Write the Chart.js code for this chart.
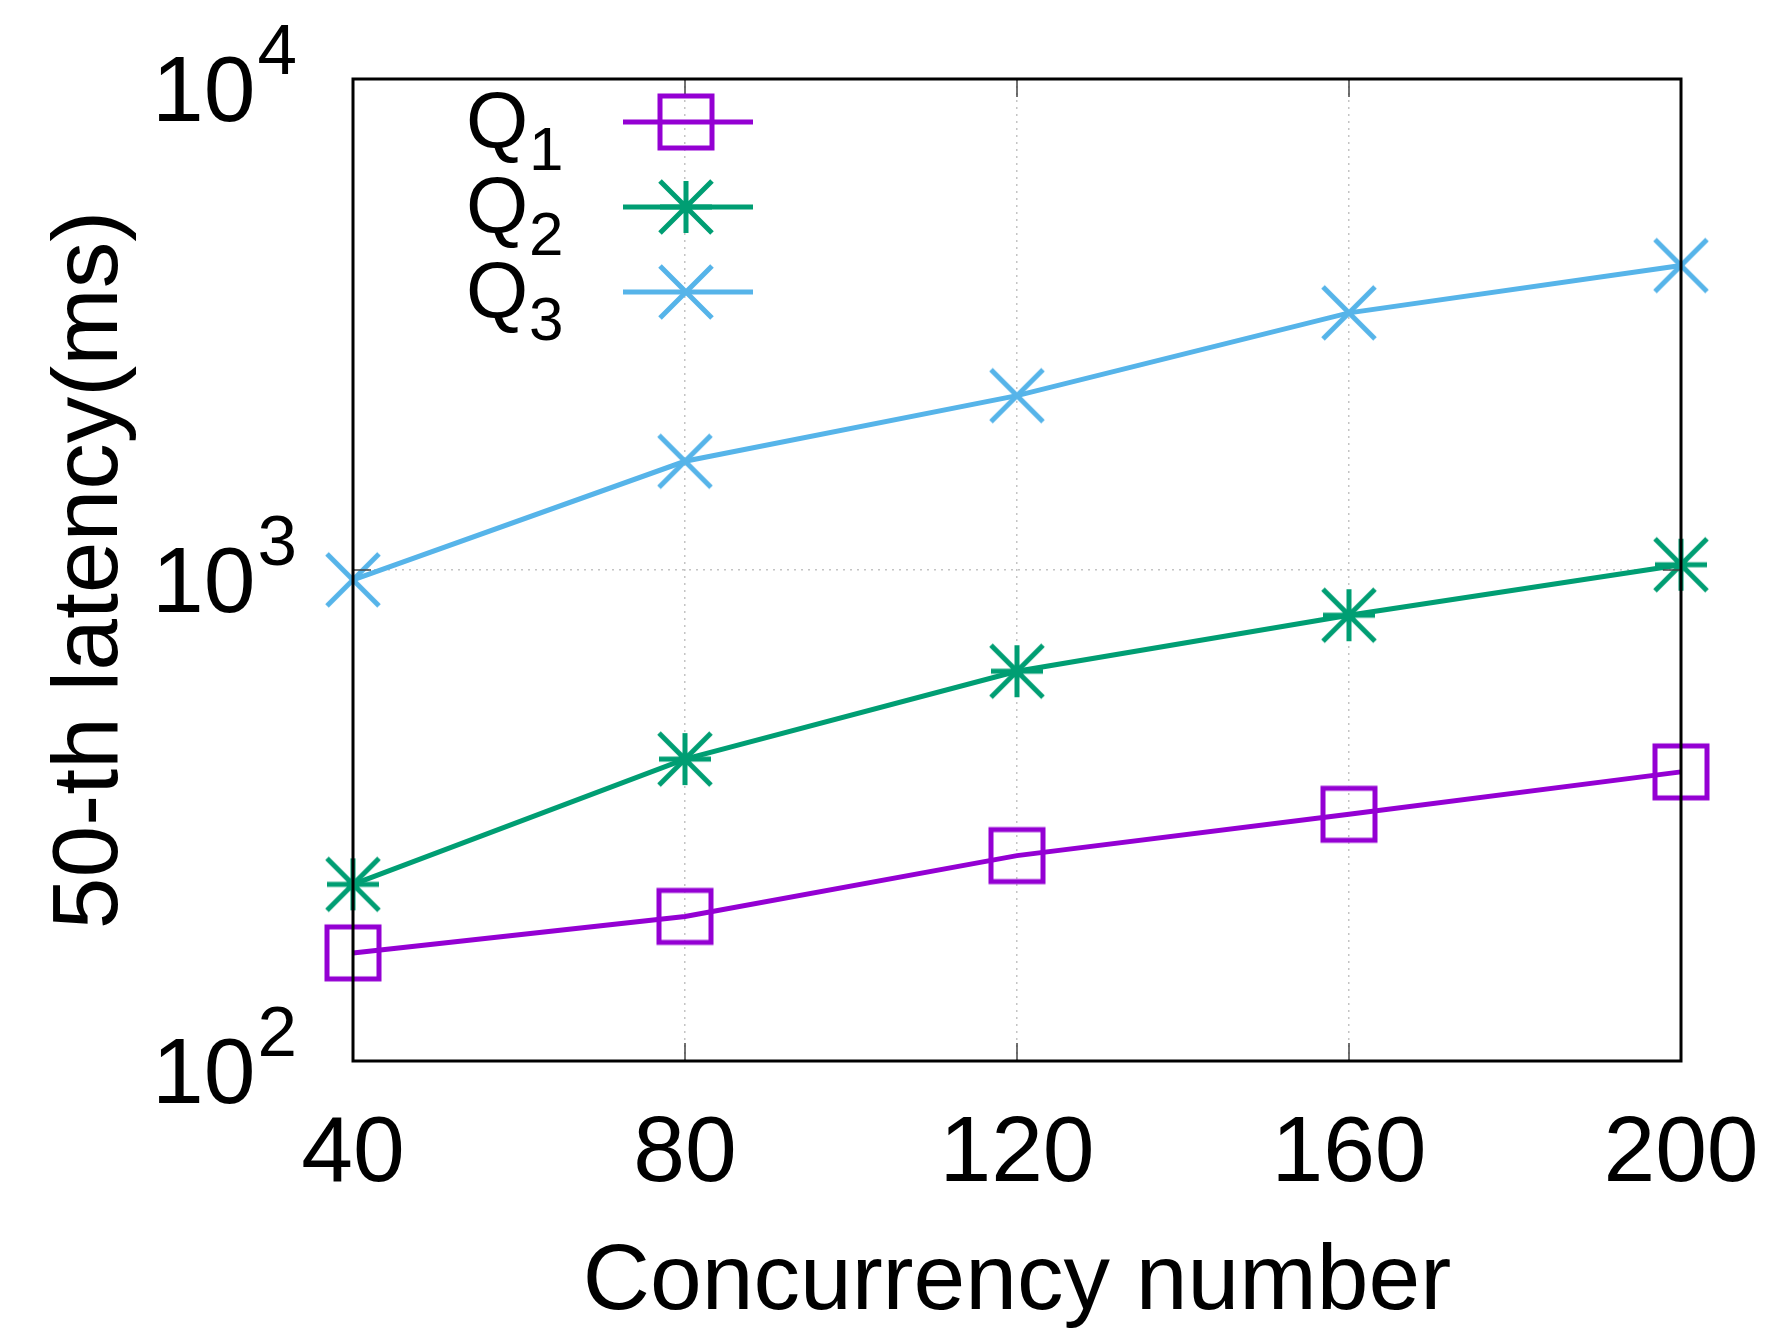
<!DOCTYPE html>
<html>
<head>
<meta charset="utf-8">
<script src="https://cdn.jsdelivr.net/npm/chart.js@4.4.1/dist/chart.umd.min.js"></script>
<style>
  html, body { margin: 0; padding: 0; background: #fff; }
</style>
</head>
<body>
<canvas id="chart" width="1792" height="1332"></canvas>
<script>
const concurrency = [40, 80, 120, 160, 200];
const q1Latency = [166, 197, 262, 318, 388];
const q2Latency = [229, 412, 622, 809, 1025];
const q3Latency = [955, 1665, 2265, 3340, 4170];
const seriesSubscripts = ['1', '2', '3'];
const xTickValues = [40, 80, 120, 160, 200];
const yTickValues = [100, 1000, 10000];
const yTickExponents = ['2', '3', '4'];

const FONT = '"Liberation Sans", Arial, Helvetica, sans-serif';
const colors = ['#9400d3', '#009e73', '#56b4e9'];
const markerStyles = ['box', 'star', 'cross'];
const MARK = 26;
const LINE_W = 5;

// gnuplot-like markers: open box, asterisk, x
function drawMarker(ctx, style, x, y, s) {
    ctx.beginPath();
    if (style === 'box') {
        ctx.rect(x - s, y - s, 2 * s, 2 * s);
    } else {
        ctx.moveTo(x - s, y - s); ctx.lineTo(x + s, y + s);
        ctx.moveTo(x + s, y - s); ctx.lineTo(x - s, y + s);
        if (style === 'star') {
            ctx.moveTo(x - s, y); ctx.lineTo(x + s, y);
            ctx.moveTo(x, y - s); ctx.lineTo(x, y + s);
        }
    }
    ctx.stroke();
}

function markerImage(style, color) {
    const c = document.createElement('canvas');
    c.width = 64;
    c.height = 64;
    const g = c.getContext('2d');
    g.strokeStyle = color;
    g.lineWidth = LINE_W;
    drawMarker(g, style, 32, 32, MARK);
    return c;
}

const seriesValues = [q1Latency, q2Latency, q3Latency];
const datasets = seriesValues.map((vals, i) => ({
    label: 'Q' + seriesSubscripts[i],
    data: concurrency.map((x, j) => ({x: x, y: vals[j]})),
    borderColor: colors[i],
    backgroundColor: colors[i],
    borderWidth: LINE_W,
    tension: 0,
    fill: false,
    pointStyle: markerImage(markerStyles[i], colors[i]),
    pointRadius: 28,
    clip: false,
}));

const frameAndLabels = {
    id: 'frameAndLabels',
    afterDatasetsDraw(chart) {
        const {ctx, chartArea: a, scales} = chart;
        ctx.save();

        // inward ticks
        ctx.strokeStyle = '#444';
        ctx.lineWidth = 1.5;
        ctx.beginPath();
        xTickValues.slice(1, -1).forEach((v) => {
            const px = scales.x.getPixelForValue(v);
            ctx.moveTo(px, a.bottom); ctx.lineTo(px, a.bottom - 18);
            ctx.moveTo(px, a.top); ctx.lineTo(px, a.top + 18);
        });
        yTickValues.slice(1, -1).forEach((v) => {
            const py = scales.y.getPixelForValue(v);
            ctx.moveTo(a.left, py); ctx.lineTo(a.left + 18, py);
            ctx.moveTo(a.right, py); ctx.lineTo(a.right - 18, py);
        });
        ctx.stroke();

        // frame
        ctx.strokeStyle = '#000';
        ctx.lineWidth = 3;
        ctx.strokeRect(a.left, a.top, a.right - a.left, a.bottom - a.top);

        // y tick labels 10^n
        ctx.fillStyle = '#000';
        ctx.textAlign = 'right';
        ctx.textBaseline = 'alphabetic';
        yTickValues.forEach((v, i) => {
            const py = scales.y.getPixelForValue(v);
            const right = a.left - 56;
            ctx.font = '71px ' + FONT;
            const supW = ctx.measureText(yTickExponents[i]).width;
            ctx.fillText(yTickExponents[i], right, py - 5);
            ctx.font = '93px ' + FONT;
            ctx.fillText('10', right - supW - 2, py + 42);
        });

        // legend: Q_n text then line sample with marker
        ctx.textAlign = 'left';
        seriesSubscripts.forEach((sub, i) => {
            const cy = a.top + 43 + i * 85;
            ctx.fillStyle = '#000';
            ctx.font = '80px ' + FONT;
            ctx.fillText('Q', a.left + 113, cy + 26);
            ctx.font = '62px ' + FONT;
            ctx.fillText(sub, a.left + 176, cy + 48);
            ctx.strokeStyle = colors[i];
            ctx.lineWidth = LINE_W;
            ctx.beginPath();
            ctx.moveTo(a.left + 270, cy);
            ctx.lineTo(a.left + 400, cy);
            ctx.stroke();
            drawMarker(ctx, markerStyles[i], a.left + 333, cy, MARK);
        });

        ctx.restore();
    },
};

new Chart(document.getElementById('chart'), {
    type: 'line',
    data: {datasets: datasets},
    options: {
        responsive: false,
        devicePixelRatio: 1,
        animation: false,
        layout: {
            padding: {top: 79, right: 111, left: 0, bottom: 0},
        },
        scales: {
            x: {
                type: 'linear',
                min: 40,
                max: 200,
                afterBuildTicks: (scale) => {
                    scale.ticks = xTickValues.map((v) => ({value: v}));
                },
                afterFit: (scale) => {
                    scale.height = 271;
                    scale.paddingLeft = 0;
                    scale.paddingRight = 0;
                },
                ticks: {
                    color: '#000',
                    font: {family: FONT, size: 93},
                    padding: 39,
                    maxRotation: 0,
                    autoSkip: false,
                },
                grid: {
                    color: '#c4c4c4',
                    lineWidth: 1.5,
                    drawTicks: false,
                },
                border: {display: false, dash: [2, 5]},
                title: {
                    display: true,
                    text: 'Concurrency number',
                    color: '#000',
                    font: {family: FONT, size: 93},
                    padding: {top: 0, bottom: -7},
                },
            },
            y: {
                type: 'logarithmic',
                min: 100,
                max: 10000,
                afterBuildTicks: (scale) => {
                    scale.ticks = yTickValues.map((v) => ({value: v}));
                },
                afterFit: (scale) => {
                    scale.width = 353;
                    scale.paddingTop = 0;
                    scale.paddingBottom = 0;
                },
                ticks: {display: false},
                grid: {
                    color: '#c4c4c4',
                    lineWidth: 1.5,
                    drawTicks: false,
                },
                border: {display: false, dash: [2, 5]},
                title: {
                    display: true,
                    text: '50-th latency(ms)',
                    color: '#000',
                    font: {family: FONT, size: 93},
                    padding: {top: 36, bottom: 0},
                },
            },
        },
        plugins: {
            legend: {display: false},
            tooltip: {enabled: false},
        },
    },
    plugins: [frameAndLabels],
});
</script>
</body>
</html>
